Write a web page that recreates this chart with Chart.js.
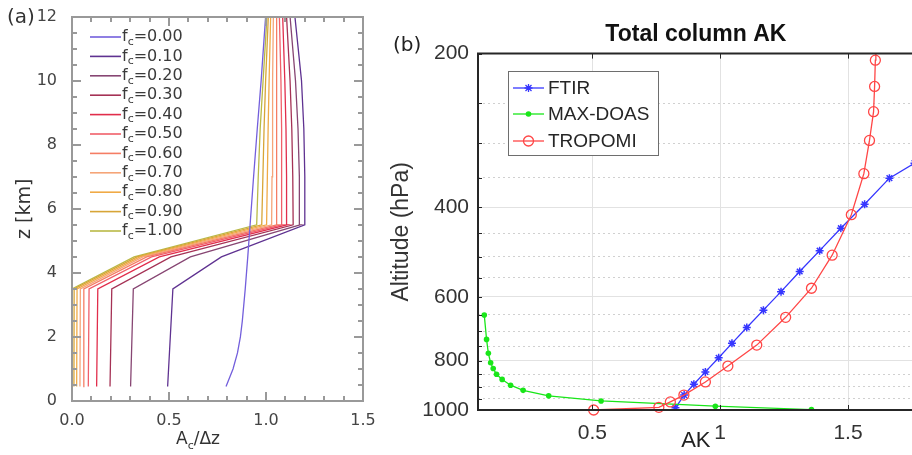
<!DOCTYPE html>
<html>
<head>
<meta charset="utf-8">
<script src="https://cdn.jsdelivr.net/npm/chart.js@4.4.0/dist/chart.umd.min.js"></script>
<style>
html, body { margin: 0; padding: 0; background: #fff; overflow: hidden; width: 912px; height: 455px; }
#wrapA { position: absolute; left: 0; top: 0; width: 380px; height: 455px; }
#wrapB { position: absolute; left: 380px; top: 0; width: 532px; height: 455px; overflow: hidden; }
</style>
</head>
<body>
<div id="wrapA"><canvas id="panelA" width="380" height="455"></canvas></div>
<div id="wrapB"><canvas id="panelB" width="540" height="455"></canvas></div>
<script>
// ---- panel (a): A_c / dz profiles for cloud fractions ----
var fcLabels = ['0.00', '0.10', '0.20', '0.30', '0.40', '0.50', '0.60', '0.70', '0.80', '0.90', '1.00'];
var fcColors = ['rgb(115,95,220)', 'rgb(95,50,145)', 'rgb(135,70,115)', 'rgb(165,50,85)', 'rgb(225,45,75)',
                'rgb(240,95,105)', 'rgb(245,125,100)', 'rgb(245,165,120)', 'rgb(240,170,70)', 'rgb(215,165,55)',
                'rgb(185,185,70)'];
// f_c = 0 (clear sky) curve
var zClear = [0.45, 1, 1.5, 2, 2.5, 3.5, 4.5, 5.5, 7, 8.5, 10, 12];
var akClear = [0.794, 0.83, 0.853, 0.868, 0.878, 0.893, 0.906, 0.918, 0.936, 0.955, 0.975, 0.998];
// cloudy curves f_c = 0.1 .. 1.0
var zCloudy = [0.45, 3.5, 4.5, 5.5, 7, 8.5, 10, 12];
var akFc10 = [0.493, 0.52, 0.77, 1.2, 1.2, 1.195, 1.183, 1.149];
var akFc20 = [0.302, 0.316, 0.61, 1.175, 1.172, 1.165, 1.152, 1.124];
var akFc30 = [0.196, 0.205, 0.51, 1.14, 1.138, 1.133, 1.124, 1.106];
var akFc40 = [0.127, 0.133, 0.45, 1.107, 1.106, 1.103, 1.097, 1.086];
var akFc50 = [0.084, 0.088, 0.41, 1.081, 1.081, 1.08, 1.077, 1.069];
var akFc60 = [0.058, 0.061, 0.385, 1.055, 1.056, 1.056, 1.055, 1.052];
var akFc70 = [0.041, 0.043, 0.365, 1.029, 1.031, 1.033, 1.035, 1.038];
var akFc80 = [0.024, 0.026, 0.35, 1.003, 1.007, 1.011, 1.016, 1.024];
var akFc90 = [0.010, 0.011, 0.335, 0.978, 0.984, 0.99, 0.998, 1.012];
var akFc100 = [0.0, 0.0, 0.32, 0.952, 0.96, 0.97, 0.985, 1.005];

// ---- panel (b): total column AK ----
var ftirAK = [0.825, 0.859, 0.897, 0.942, 0.994, 1.046, 1.104, 1.169, 1.238, 1.311, 1.389, 1.472, 1.565, 1.662, 1.76];
var ftirP = [990, 935, 890, 842, 790, 740, 689, 637, 586, 535, 487, 440, 395, 351, 328];
var doasAK = [0.077, 0.086, 0.093, 0.102, 0.112, 0.125, 0.147, 0.180, 0.229, 0.329, 0.534, 0.981, 1.357];
var doasP = [651, 727, 774, 808, 829, 851, 871, 894, 915, 938, 960, 983, 998];
var tropAK = [0.505, 0.76, 0.805, 0.858, 0.942, 1.030, 1.143, 1.256, 1.357, 1.438, 1.513, 1.562, 1.584, 1.600, 1.604, 1.607, 1.609];
var tropP = [1000, 988, 964, 935, 881, 820, 746, 658, 577, 497, 414, 344, 296, 260, 232, 206, 180];
var pTicks = [200, 400, 600, 800, 1000];
var pMinor = [250, 300, 350, 450, 500, 550, 650, 700, 750, 850, 900, 950];
var akTicks = [0.5, 1, 1.5];

function pairs(xs, ys) {
    return xs.map(function (v, i) { return { x: v, y: ys[i] }; });
}

var cloudyCurves = [akFc10, akFc20, akFc30, akFc40, akFc50, akFc60, akFc70, akFc80, akFc90, akFc100];
var dsA = [{ data: pairs(akClear, zClear), borderColor: fcColors[0] }];
cloudyCurves.forEach(function (vals, i) {
    dsA.push({ data: pairs(vals, zCloudy), borderColor: fcColors[i + 1] });
});
dsA.forEach(function (d, i) {
    d.label = 'fc=' + fcLabels[i];
    d.showLine = true;
    d.pointRadius = 0;
    d.borderWidth = 1.3;
});

var fontA = "'DejaVu Sans'";
var fontB = "'Liberation Sans'";

function seg(c, x1, y1, x2, y2) {
    c.moveTo(x1, y1);
    c.lineTo(x2, y2);
}

// frame and inner tick marks of panel (a)
function frameA(chart) {
    var c = chart.ctx, a = chart.chartArea, sx = chart.scales.x, sy = chart.scales.y;
    var L = Math.round(a.left), R = Math.round(a.right), T = Math.round(a.top), B = Math.round(a.bottom);
    c.save();
    c.fillStyle = '#999999';
    c.fillRect(L - 1, T - 1, 2, B - T + 2);
    c.fillRect(R - 1, T - 1, 2, B - T + 2);
    c.fillRect(L - 1, T - 1, R - L + 2, 2);
    c.fillRect(L - 1, B - 1, R - L + 2, 2);
    for (var k = 0; k <= 15; k++) {
        var px = Math.round(sx.getPixelForValue(k / 10));
        var len = k % 5 === 0 ? 9 : 5;
        c.fillRect(px - 1, B - len, 2, len);
        c.fillRect(px - 1, T, 2, len);
    }
    for (k = 0; k <= 24; k++) {
        var py = Math.round(sy.getPixelForValue(k / 2));
        var l2 = k % 4 === 0 ? 9 : 5;
        c.fillRect(L, py - 1, l2, 2);
        c.fillRect(R - l2, py - 1, l2, 2);
    }
    c.restore();
}

var decorA = {
    id: 'decorA',
    afterDraw: function (chart) {
        var c = chart.ctx;
        frameA(chart);
        c.save();
        // legend
        c.textBaseline = 'middle';
        c.textAlign = 'left';
        for (var i = 0; i < fcLabels.length; i++) {
            var y = 37 + 19.4 * i;
            c.strokeStyle = fcColors[i];
            c.lineWidth = 1.6;
            c.beginPath(); seg(c, 90, y, 121, y); c.stroke();
            c.fillStyle = '#3a3a3a';
            c.font = '16px ' + fontA;
            c.fillText('f', 122, y);
            var w = c.measureText('f').width;
            c.font = '11px ' + fontA;
            c.fillText('c', 122 + w, y + 5);
            var w2 = c.measureText('c').width;
            c.font = '16px ' + fontA;
            c.fillText('=' + fcLabels[i], 122 + w + w2, y);
        }

        // x axis title A_c / dz
        c.fillStyle = '#333';
        c.font = '17px ' + fontA;
        var wA = c.measureText('A').width;
        var wR = c.measureText('/\u0394z').width;
        c.font = '11px ' + fontA;
        var wc = c.measureText('c').width;
        var x0 = 198 - (wA + wc + wR) / 2;
        c.font = '17px ' + fontA;
        c.fillText('A', x0, 440);
        c.font = '11px ' + fontA;
        c.fillText('c', x0 + wA, 446);
        c.font = '17px ' + fontA;
        c.fillText('/\u0394z', x0 + wA + wc, 440);

        // panel letter
        c.font = '20px ' + fontA;
        c.fillStyle = '#333';
        c.fillText('(a)', 7, 18);
        c.restore();
    }
};

new Chart(document.getElementById('panelA').getContext('2d'), {
    type: 'scatter',
    data: { datasets: dsA },
    options: {
        responsive: false,
        animation: false,
        layout: { padding: { top: 16, right: 17, left: 0, bottom: 0 } },
        plugins: { legend: { display: false }, tooltip: { enabled: false } },
        scales: {
            x: {
                type: 'linear', min: 0, max: 1.5,
                afterFit: function (s) { s.height = 54; },
                grid: { display: false },
                border: { display: true, color: '#999999', width: 2 },
                ticks: {
                    stepSize: 0.5, padding: 2, color: '#444', font: { family: fontA, size: 16 },
                    callback: function (v) { return Number(v).toFixed(1); }
                }
            },
            y: {
                type: 'linear', min: 0, max: 12,
                afterFit: function (s) { s.width = 72; },
                grid: { display: false },
                border: { display: true, color: '#999999', width: 2 },
                ticks: { stepSize: 2, padding: 7, color: '#444', font: { family: fontA, size: 16 } },
                title: { display: true, text: 'z [km]', color: '#333', font: { family: fontA, size: 19 }, padding: { top: 14, bottom: 0 } }
            }
        }
    },
    plugins: [decorA]
});

// ---- panel (b) ----
var blue = 'rgb(55,55,255)', green = 'rgb(25,230,25)', red = 'rgb(255,70,70)';

var decorB = {
    id: 'decorB',
    afterDraw: function (chart) {
        var c = chart.ctx, a = chart.chartArea, sx = chart.scales.x, sy = chart.scales.y;
        c.save();
        c.setLineDash([]);
        // inner tick marks
        c.strokeStyle = '#262626';
        c.lineWidth = 1;
        c.beginPath();
        akTicks.forEach(function (v) {
            var px = Math.round(sx.getPixelForValue(v)) + 0.5;
            seg(c, px, a.bottom, px, a.bottom - 5);
            seg(c, px, a.top, px, a.top + 5);
        });
        pTicks.concat(pMinor).forEach(function (v) {
            var py = Math.round(sy.getPixelForValue(v)) + 0.5;
            seg(c, a.left, py, a.left + 4, py);
        });
        c.stroke();
        // frame
        c.lineWidth = 2;
        c.beginPath();
        c.moveTo(a.right + 5, a.top); c.lineTo(a.left, a.top); c.lineTo(a.left, a.bottom); c.lineTo(a.right + 5, a.bottom);
        c.stroke();

        // legend box
        c.fillStyle = '#fff';
        c.fillRect(128, 71, 150, 84);
        c.strokeStyle = '#6e6e6e';
        c.lineWidth = 1;
        c.strokeRect(128.5, 71.5, 150, 84);
        var rows = [
            { t: 'FTIR', col: blue, y: 88, m: 'star' },
            { t: 'MAX-DOAS', col: green, y: 114, m: 'dot' },
            { t: 'TROPOMI', col: red, y: 141, m: 'ring' }
        ];
        rows.forEach(function (r) {
            c.strokeStyle = r.col;
            c.fillStyle = r.col;
            c.lineWidth = 1.3;
            c.beginPath(); seg(c, 133, r.y, 164, r.y); c.stroke();
            var mx = 148.5;
            c.beginPath();
            if (r.m === 'star') {
                seg(c, mx - 4, r.y, mx + 4, r.y);
                seg(c, mx, r.y - 4, mx, r.y + 4);
                seg(c, mx - 3, r.y - 3, mx + 3, r.y + 3);
                seg(c, mx - 3, r.y + 3, mx + 3, r.y - 3);
                c.stroke();
            } else if (r.m === 'dot') {
                c.arc(mx, r.y, 2.8, 0, Math.PI * 2); c.fill();
            } else {
                c.arc(mx, r.y, 5, 0, Math.PI * 2); c.stroke();
            }
            c.fillStyle = '#262626';
            c.font = '19px ' + fontB;
            c.textAlign = 'left';
            c.textBaseline = 'middle';
            c.fillText(r.t, 168, r.y + 1);
        });

        // panel letter
        c.fillStyle = '#222';
        c.font = '20px ' + fontA;
        c.textBaseline = 'middle';
        c.fillText('(b)', 13, 46);
        c.restore();
    }
};

new Chart(document.getElementById('panelB').getContext('2d'), {
    type: 'scatter',
    data: {
        datasets: [{
            label: 'FTIR',
            data: pairs(ftirAK, ftirP),
            showLine: true, borderColor: blue, backgroundColor: blue, borderWidth: 1.3,
            pointStyle: 'star', pointRadius: 4, pointBorderWidth: 1.5, pointBorderColor: blue,
            order: 3
        }, {
            label: 'MAX-DOAS',
            data: pairs(doasAK, doasP),
            showLine: true, borderColor: green, backgroundColor: green, borderWidth: 1.3,
            pointStyle: 'circle', pointRadius: 2.8, pointBorderWidth: 0, pointBackgroundColor: green,
            order: 2
        }, {
            label: 'TROPOMI',
            data: pairs(tropAK, tropP),
            showLine: true, borderColor: red, backgroundColor: 'rgba(0,0,0,0)', borderWidth: 1.3,
            pointStyle: 'circle', pointRadius: 5, pointBorderWidth: 1.3, pointBorderColor: red,
            pointBackgroundColor: 'rgba(0,0,0,0)',
            clip: { left: 8, right: 8, top: 0, bottom: 8 },
            order: 1
        }]
    },
    options: {
        responsive: false,
        animation: false,
        layout: { padding: { top: 0, right: 4, left: 0, bottom: 0 } },
        plugins: {
            legend: { display: false },
            tooltip: { enabled: false },
            title: {
                display: true, text: 'Total column AK', fullSize: false, color: '#111',
                font: { family: fontB, size: 23, weight: 'bold' },
                padding: { top: 21, bottom: 5 }
            }
        },
        scales: {
            x: {
                type: 'linear', min: 0.0525, max: 1.757,
                afterBuildTicks: function (s) { s.ticks = akTicks.map(function (v) { return { value: v }; }); },
                afterFit: function (s) { s.height = 45; },
                grid: { color: '#e2e2e2', drawTicks: false },
                border: { display: false },
                ticks: {
                    padding: 11, color: '#333', font: { family: fontB, size: 21 },
                    callback: function (v) { return String(v); }
                },
                title: { display: true, text: 'AK', color: '#222', font: { family: fontB, size: 22 }, padding: { top: 0, bottom: 1 } }
            },
            y: {
                type: 'logarithmic', reverse: true, min: 200, max: 1000,
                afterBuildTicks: function (s) { s.ticks = pTicks.map(function (v) { return { value: v }; }); },
                afterFit: function (s) { s.width = 98; },
                grid: { color: '#e2e2e2', drawTicks: false },
                border: { display: false },
                ticks: {
                    padding: 9, color: '#333', font: { family: fontB, size: 21 },
                    callback: function (v) { return String(v); }
                },
                title: { display: true, text: 'Altitude (hPa)', color: '#333', font: { family: fontB, size: 23 }, padding: { top: 8, bottom: 0 } }
            },
            yMinor: {
                type: 'logarithmic', reverse: true, min: 200, max: 1000, position: 'left',
                afterBuildTicks: function (s) { s.ticks = pMinor.map(function (v) { return { value: v }; }); },
                afterFit: function (s) { s.width = 0; },
                grid: { color: '#d0d0d0', drawTicks: false },
                border: { display: false, dash: [2, 3] },
                ticks: { display: false }
            }
        }
    },
    plugins: [decorB]
});
</script>
</body>
</html>
